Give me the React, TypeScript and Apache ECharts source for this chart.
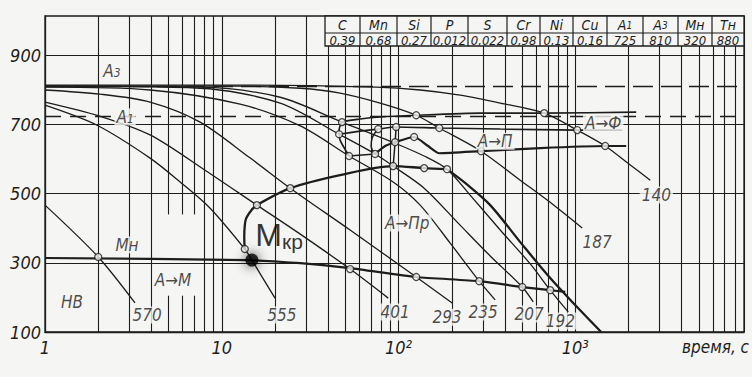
import React, { useEffect, useRef } from "react";
import * as echarts from "echarts";

// ---------- axes ----------
const T_MIN = 100;
const T_MAX = 1014;
const X_MIN = 1;
const X_MAX = 9000;
const Y_TICK_LABELS = [100, 300, 500, 700, 900];
const H_GRID_LINES = [300, 500, 700, 900];
const DECADES = [1, 10, 100, 1000];
const MULTIPLIERS = [1, 2, 3, 4, 5, 6, 7, 8, 9];
const X_TICK_LABELS = ["1", "10", "10²", "10³"];
const V_GRID_GAPS: Record<number, [number, number]> = { 5: [205, 440], 6: [205, 440], 7: [205, 440] };
const A3_TEMP = 810;
const A1_TEMP = 725;

// ---------- cooling curves [time s, temperature °C] ----------
const CURVE_140 = [[1, 814], [12.7, 814], [74.7, 808], [132.5, 800], [223, 785], [376, 762], [667, 733], [1025, 684], [1476, 638], [2046, 583], [2655, 539]];
const CURVE_187 = [[1, 811], [12.7, 811], [27.8, 805], [46.7, 791], [78.7, 762], [125.9, 727], [170, 690], [293, 623], [488, 539], [769, 464], [1094, 401]];
const CURVE_192 = [[1, 811], [7.54, 808], [21.4, 779], [47.9, 707], [95.6, 646], [139.6, 609], [188, 571], [254, 496], [376, 395], [556, 297], [721, 221], [912, 158]];
const CURVE_207 = [[1, 811], [7.54, 805], [21.4, 762], [46.1, 672], [73.7, 615], [93.2, 580], [139.6, 516], [223, 409], [330, 320], [501, 230], [578, 187]];
const CURVE_235 = [[1, 808], [3.93, 800], [12.7, 759], [27.8, 696], [52.5, 609], [93.2, 534], [132.5, 467], [196, 357], [286, 247], [352, 193]];
const CURVE_293 = [[1, 800], [2.05, 788], [3.93, 765], [7.54, 707], [14.5, 603], [24.4, 516], [53.2, 395], [125.9, 259], [201, 184]];
const CURVE_401 = [[1, 765], [2.05, 724], [3.93, 670], [8.04, 568], [15.8, 467], [27.8, 383], [53.2, 282], [87.4, 198]];
const CURVE_555 = [[1, 756], [1.97, 698], [3.93, 603], [5.81, 534], [8.59, 458], [13.5, 340], [14.8, 308], [20.0, 198]];
const CURVE_570 = [[1, 467], [2.0, 317], [3.23, 184]];

// ---------- transformation lines ----------
const FERRITE_START = [[52.5, 609], [46.7, 655], [46.1, 684], [47.9, 707], [60.6, 716], [78.7, 722], [125.9, 727], [290, 733], [667, 733], [2211, 736]];
const PEARLITE_START = [[46.1, 672], [60.6, 681], [76.7, 687], [96.9, 693], [170, 690], [376, 687], [1025, 684], [1842, 684]];
const PEARLITE_END = [[73.7, 615], [84, 638], [95.6, 649], [122.5, 664], [147, 638], [170, 617], [293, 623], [633, 632], [1476, 638], [1941, 638]];
const NOSE_LINK = [[52.5, 609], [73.7, 615]];
const NOSE_LOOP = [[76.7, 687], [70.9, 661], [70, 638], [73.7, 615]];
const NOSE_CHAIN = [[96.9, 693], [95.6, 649], [93.2, 580]];
const BAINITE_START = [[15.8, 467], [24.4, 516], [46.7, 554], [93.2, 580], [139.6, 574], [188, 571]];
const M_KR_ARC = [[15.8, 467], [14.3, 444], [13.5, 409], [13.4, 375], [13.5, 340]];
const TRANSFORM_END = [[188, 571], [238, 531], [330, 467], [488, 360], [721, 256], [998, 178], [1400, 100]];
const MS_LINE = [[1, 314], [13.9, 308], [27.8, 299], [53.2, 285], [125.9, 259], [286, 247], [501, 230], [721, 221], [877, 216]];

// ---------- intersection points ----------
const POINTS = [
  [2.0, 317], [13.5, 340], [15.8, 467], [24.4, 516], [47.9, 707], [46.1, 672], [52.5, 609], [53.2, 282],
  [73.7, 615], [76.7, 687], [93.2, 580], [95.6, 649], [96.9, 693], [122.5, 664], [125.9, 727], [125.9, 259],
  [139.6, 574], [170, 690], [188, 571], [286, 247], [293, 623], [501, 230], [667, 733], [721, 221],
  [1025, 684], [1476, 638],
];
const CRITICAL_DOT = [[14.8, 308]];

// ---------- labels ----------
const LABELS = [
  { t: 3.78, T: 149, text: "570" },
  { t: 21.9, T: 149, text: "555" },
  { t: 95.6, T: 158, text: "401" },
  { t: 188, T: 143, text: "293" },
  { t: 301, T: 158, text: "235" },
  { t: 548, T: 152, text: "207" },
  { t: 822, T: 132, text: "192" },
  { t: 1330, T: 360, text: "187" },
  { t: 2871, T: 496, text: "140" },
  { t: 2.91, T: 352, text: "Mн" },
  { t: 5.3, T: 250, text: "A→M" },
  { t: 1.42, T: 187, text: "HB" },
  { t: 2.39, T: 855, text: "A{s|3}" },
  { t: 2.84, T: 722, text: "A{s|1}" },
  { t: 1439, T: 704, text: "A→Ф" },
  { t: 352, T: 652, text: "A→П" },
  { t: 112, T: 415, text: "A→Пр" },
];
const MKR_LABEL = { t: 21.1, T: 331, text: "M{k|кр}" };
const X_AXIS_NAME = "время, с";

// ---------- composition table ----------
const TABLE_HEAD = ["C", "Mn", "Si", "P", "S", "Cr", "Ni", "Cu", "A{s|1}", "A{s|3}", "Mн", "Tн"];
const TABLE_VALUES = ["0,39", "0,68", "0,27", "0,012", "0,022", "0,98", "0,13", "0,16", "725", "810", "320", "880"];

// ---------- style / layout ----------
const INK = "#1d1d1d";
const BG = "#f5f5f3";
const SCAN_FONT = "'Liberation Sans Narrow', 'DejaVu Sans Condensed', 'Liberation Sans', sans-serif";
const PLAIN_FONT = "'Liberation Sans', Arial, sans-serif";
const TABLE_X = [325, 360, 397, 431, 468, 507, 540, 573, 607, 643, 678, 712, 744];
const TABLE_Y = [16, 33, 46];

function lineSeries(name: string, data: number[][], width = 1.3, smooth: number | boolean = 0.3, z = 3) {
  return {
    type: "line",
    name,
    data,
    smooth,
    symbol: "none",
    silent: true,
    lineStyle: { color: INK, width },
    z,
  };
}

function buildOption() {
  const vLines: any[] = [];
  DECADES.forEach((d) =>
    MULTIPLIERS.forEach((m) => {
      const t = d * m;
      if (t <= X_MIN || t > X_MAX) return;
      const gap = V_GRID_GAPS[t];
      if (gap) {
        vLines.push([{ coord: [t, T_MIN] }, { coord: [t, gap[0]] }]);
        vLines.push([{ coord: [t, gap[1]] }, { coord: [t, T_MAX] }]);
      } else {
        vLines.push([{ coord: [t, T_MIN] }, { coord: [t, T_MAX] }]);
      }
    })
  );

  const gridSeries = {
    type: "line",
    name: "grid",
    data: [],
    silent: true,
    z: 1,
    markLine: {
      silent: true,
      symbol: ["none", "none"],
      label: { show: false },
      emphasis: { disabled: true },
      lineStyle: { color: INK, width: 1.1, type: "solid" },
      data: [
        ...vLines,
        ...H_GRID_LINES.map((v) => ({ yAxis: v })),
        { yAxis: A3_TEMP, lineStyle: { type: [20, 8], width: 1.4, color: INK } },
        { yAxis: A1_TEMP, lineStyle: { type: [16, 9], width: 1.4, color: INK } },
      ],
    },
  };

  const textStyle = {
    color: INK,
    fontFamily: SCAN_FONT,
    fontStyle: "italic",
    fontSize: 18,
  };

  const tableGraphics: any[] = [];
  tableGraphics.push({
    type: "rect",
    z: 100,
    shape: { x: TABLE_X[0], y: TABLE_Y[0], width: TABLE_X[TABLE_X.length - 1] - TABLE_X[0], height: TABLE_Y[2] - TABLE_Y[0] },
    style: { fill: BG, stroke: INK, lineWidth: 1.3 },
  });
  tableGraphics.push({
    type: "line",
    z: 101,
    shape: { x1: TABLE_X[0], y1: TABLE_Y[1], x2: TABLE_X[TABLE_X.length - 1], y2: TABLE_Y[1] },
    style: { stroke: INK, lineWidth: 1.2 },
  });
  for (let i = 1; i < TABLE_X.length - 1; i++) {
    tableGraphics.push({
      type: "line",
      z: 101,
      shape: { x1: TABLE_X[i], y1: TABLE_Y[0], x2: TABLE_X[i], y2: TABLE_Y[2] },
      style: { stroke: INK, lineWidth: 1.2 },
    });
  }
  TABLE_HEAD.forEach((h, i) => {
    const cx = (TABLE_X[i] + TABLE_X[i + 1]) / 2;
    tableGraphics.push({
      type: "text",
      z: 102,
      style: {
        text: h,
        x: cx,
        y: (TABLE_Y[0] + TABLE_Y[1]) / 2 + 0.5,
        align: "center",
        verticalAlign: "middle",
        fill: INK,
        fontSize: 14,
        lineHeight: 14,
        fontStyle: "italic",
        fontFamily: SCAN_FONT,
        rich: { s: { fontSize: 10, lineHeight: 14, fontStyle: "italic", fontFamily: SCAN_FONT, fill: INK } },
      },
    });
    tableGraphics.push({
      type: "text",
      z: 102,
      style: {
        text: TABLE_VALUES[i],
        x: cx,
        y: (TABLE_Y[1] + TABLE_Y[2]) / 2 + 0.5,
        align: "center",
        verticalAlign: "middle",
        fill: INK,
        fontSize: 13,
        lineHeight: 11,
        fontStyle: "italic",
        fontFamily: SCAN_FONT,
      },
    });
  });
  tableGraphics.push({
    type: "text",
    z: 102,
    style: {
      text: X_AXIS_NAME,
      x: 749,
      y: 347,
      align: "right",
      verticalAlign: "middle",
      fill: INK,
      fontSize: 17,
      fontStyle: "italic",
      fontFamily: SCAN_FONT,
    },
  });

  return {
    animation: false,
    backgroundColor: BG,
    grid: {
      left: 45,
      right: 8,
      top: 16,
      bottom: 45,
      show: true,
      borderColor: INK,
      borderWidth: 1.3,
      backgroundColor: "transparent",
      containLabel: false,
      outerBoundsMode: "none",
    },
    xAxis: {
      type: "log",
      logBase: 10,
      min: X_MIN,
      max: X_MAX,
      axisLine: { show: true, lineStyle: { color: INK, width: 1.3 } },
      axisTick: { show: false },
      splitLine: { show: false },
      minorTick: { show: false },
      axisLabel: {
        ...textStyle,
        margin: 6,
        showMinLabel: true,
        showMaxLabel: false,
        formatter: (v: number) => {
          const k = Math.round(Math.log10(v));
          if (k >= 0 && k < X_TICK_LABELS.length && Math.abs(v - Math.pow(10, k)) < 1e-6 * v) return X_TICK_LABELS[k];
          return "";
        },
      },
    },
    yAxis: {
      type: "value",
      min: T_MIN,
      max: T_MAX,
      interval: 100,
      axisLine: { show: true, lineStyle: { color: INK, width: 1.3 } },
      axisTick: { show: false },
      splitLine: { show: false },
      axisLabel: {
        ...textStyle,
        margin: 4,
        showMinLabel: true,
        showMaxLabel: false,
        formatter: (v: number) => (Y_TICK_LABELS.includes(v) ? String(v) : ""),
      },
    },
    graphic: tableGraphics,
    series: [
      gridSeries,
      lineSeries("140", CURVE_140, 1.3),
      lineSeries("187", CURVE_187, 1.3),
      lineSeries("192", CURVE_192, 1.3),
      lineSeries("207", CURVE_207, 1.3),
      lineSeries("235", CURVE_235, 1.3),
      lineSeries("293", CURVE_293, 1.3),
      lineSeries("401", CURVE_401, 1.3),
      lineSeries("555", CURVE_555, 1.3),
      lineSeries("570", CURVE_570, 1.3),
      lineSeries("ferrite start", FERRITE_START, 1.6, 0.2),
      lineSeries("pearlite start", PEARLITE_START, 1.6, 0.2),
      lineSeries("pearlite end", PEARLITE_END, 2.2, 0.2),
      lineSeries("nose link", NOSE_LINK, 1.5, false),
      lineSeries("nose loop", NOSE_LOOP, 1.5, 0.4),
      lineSeries("nose chain", NOSE_CHAIN, 1.5, 0.3),
      lineSeries("bainite start", BAINITE_START, 2.3, 0.3),
      lineSeries("Mkr arc", M_KR_ARC, 2.3, 0.5),
      lineSeries("transform end", TRANSFORM_END, 2.3, 0.3),
      lineSeries("Ms", MS_LINE, 2.2, 0.2),
      {
        type: "scatter",
        name: "points",
        data: POINTS,
        symbol: "circle",
        symbolSize: 7,
        silent: true,
        itemStyle: { color: BG, borderColor: INK, borderWidth: 1.3 },
        z: 6,
      },
      {
        type: "scatter",
        name: "critical",
        data: CRITICAL_DOT,
        symbol: "circle",
        symbolSize: 13,
        silent: true,
        itemStyle: { color: "#050505", shadowBlur: 12, shadowColor: "rgba(0,0,0,0.95)" },
        z: 7,
      },
      {
        type: "scatter",
        name: "labels",
        data: LABELS.map((l) => ({ value: [l.t, l.T], name: l.text })),
        symbolSize: 1,
        silent: true,
        itemStyle: { color: "rgba(0,0,0,0)" },
        z: 9,
        label: {
          show: true,
          position: "inside",
          formatter: "{b}",
          ...textStyle,
          fontSize: 17,
          backgroundColor: BG,
          padding: [0, 2],
          rich: { s: { fontSize: 12, fontStyle: "italic", fontFamily: SCAN_FONT, color: INK, padding: [5, 0, 0, 0] } },
        },
      },
      {
        type: "scatter",
        name: "Mkr",
        data: [{ value: [MKR_LABEL.t, MKR_LABEL.T], name: MKR_LABEL.text }],
        symbolSize: 1,
        silent: true,
        itemStyle: { color: "rgba(0,0,0,0)" },
        z: 9,
        label: {
          show: true,
          position: "inside",
          formatter: "{b}",
          color: "#000",
          fontFamily: PLAIN_FONT,
          fontSize: 32,
          lineHeight: 34,
          verticalAlign: "bottom",
          rich: { k: { fontFamily: PLAIN_FONT, fontSize: 21, color: "#000", lineHeight: 27, verticalAlign: "bottom" } },
        },
      },
    ],
  };
}

export default function App() {
  const ref = useRef<HTMLDivElement>(null);
  useEffect(() => {
    document.body.style.margin = "0";
    if (!ref.current) return;
    const chart = echarts.init(ref.current, null, { renderer: "svg" });
    chart.setOption(buildOption() as any);
    return () => chart.dispose();
  }, []);
  return <div ref={ref} style={{ width: 752, height: 377, background: BG }} />;
}
